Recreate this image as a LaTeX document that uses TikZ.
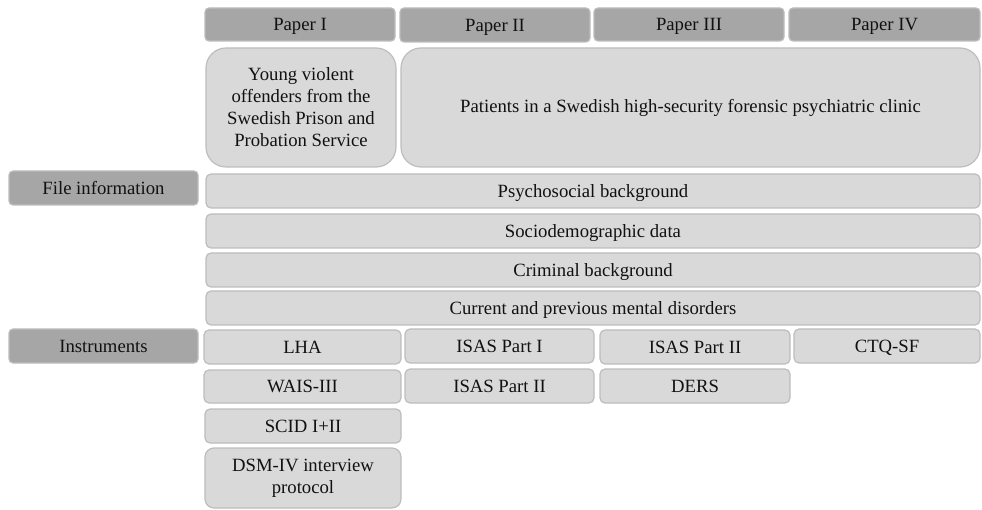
\documentclass[tikz,border=0pt]{standalone}
\usepackage{fontspec}
\setmainfont{Liberation Serif}
\definecolor{hdrfill}{HTML}{A6A6A6}
\definecolor{boxfill}{HTML}{D9D9D9}
\definecolor{edgecol}{HTML}{BDBDBD}
\definecolor{txtcol}{HTML}{111111}
\tikzset{
  base/.style={draw=edgecol, line width=1.2pt, inner sep=0pt, outer sep=0pt, text=txtcol,
    font=\fontsize{18.7pt}{22pt}\selectfont, align=center},
  oneline/.style={text height=12.4pt, text depth=0pt},
  hdr/.style={base, oneline, fill=hdrfill, rounded corners=4pt},
  bar/.style={base, oneline, fill=boxfill, rounded corners=5pt},
  big/.style={base, fill=boxfill, rounded corners=20pt},
  mid/.style={base, fill=boxfill, rounded corners=9pt},
}
\newcommand\bx[7]{%
  \node[#6, minimum width={(#4-#2)*1pt}, minimum height={(#5-#3)*1pt}]
    (#1) at ({(#2+#4)/2pt}, {-(#3+#5)/2pt}) {#7};}
\begin{document}
\begin{tikzpicture}[x=1pt,y=1pt]
\useasboundingbox (0,0) rectangle (982,-510);
% headers
\bx{p1}{205}{8}{395}{41}{hdr}{Paper I}
\bx{p2}{400}{8}{590}{42}{hdr}{Paper II}
\bx{p3}{594}{8}{784}{41}{hdr}{Paper III}
\bx{p4}{789}{8}{980}{41}{hdr}{Paper IV}
% populations
\bx{young}{206}{48}{396}{167}{big}{Young violent\\offenders from the\\Swedish Prison and\\Probation Service}
\bx{pat}{401}{48}{980}{167}{big}{Patients in a Swedish high-security forensic psychiatric clinic}
% file information
\bx{fi}{9}{171}{198}{205}{hdr}{File information}
\bx{psy}{206}{174}{980}{208}{bar}{Psychosocial background}
\bx{soc}{206}{214}{980}{248}{bar}{Sociodemographic data}
\bx{cri}{206}{253}{980}{287}{bar}{Criminal background}
\bx{cur}{206}{291}{980}{325}{bar}{Current and previous mental disorders}
% instruments
\bx{ins}{9}{329}{198}{363}{hdr}{Instruments}
\bx{lha}{204}{330}{401}{364}{bar}{LHA}
\bx{isasa}{405}{329}{594}{363}{bar}{ISAS Part I}
\bx{isasb}{600}{330}{790}{364}{bar}{ISAS Part II}
\bx{ctq}{794}{329}{980}{363}{bar}{CTQ-SF}
\bx{wais}{204}{370}{401}{403}{bar}{WAIS-III}
\bx{isasc}{405}{369}{594}{403}{bar}{ISAS Part II}
\bx{ders}{600}{369}{790}{403}{bar}{DERS}
\bx{scid}{205}{409}{401}{443}{bar}{SCID I+II}
\bx{dsm}{205}{448}{401}{508}{mid}{DSM-IV interview\\protocol}
\end{tikzpicture}
\end{document}
